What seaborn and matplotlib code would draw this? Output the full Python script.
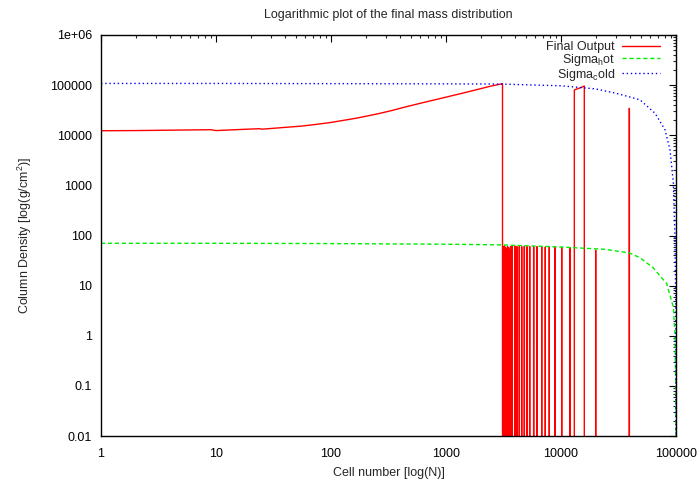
import numpy as np
import pandas as pd
import seaborn as sns
import matplotlib.pyplot as plt
from matplotlib.ticker import LogLocator, NullFormatter

# Final output: smooth part up to cell ~3100
red_curve_n = [1, 2, 5, 9, 10, 20, 24, 25, 39, 55, 75, 100, 168, 250, 326, 450, 637,
               1000, 1500, 2410, 3100]
red_curve_sigma = [12300, 12400, 12700, 12900, 12400, 13300, 13500, 13200, 14300, 15200,
                   16500, 18000, 22000, 26500, 30500, 37000, 45000, 57500, 72000, 94600,
                   107000]

# isolated cells with mass (spikes)
spike_n = [3150, 3220, 3290, 3360, 3430, 3500, 3570, 3640, 3710, 3773, 3981, 4143, 4343,
           4553, 4800, 5060, 5343, 5785, 6185, 6795, 7304, 7913, 8870, 10140, 11970,
           20030, 39300]
spike_sigma = [60, 62, 58, 55, 60, 57, 52, 60, 58, 61, 62, 60, 61, 60, 61, 60, 60, 60, 60,
               60, 59, 59, 59, 58, 57, 51, 34500]

# block of cells near cold curve
block_n = [13060, 14000, 15000, 15950]
block_sigma = [80000, 85000, 90000, 96000]

cold_n = [1, 10, 100, 1000, 3000, 10000, 20000, 30000, 48600, 65700, 80200, 88700,
          94900, 97800, 99500, 99900, 100000]
cold_sigma = [108000, 108000, 107000, 106000, 105000, 97000, 84000, 69000, 51000, 27500,
              12900, 5100, 1120, 112, 5, 0.3, 0.001]

hot_n = [1, 10, 100, 1000, 3000, 10000, 24000, 39300, 48600, 63000, 83000, 94900, 97800,
         99500, 99900, 100000]
hot_sigma = [70, 70, 69, 67, 65, 59, 53, 45, 36, 23, 11, 3.7, 1.15, 0.1, 0.02, 0.001]

FLOOR = 1e-4

pts = list(zip(red_curve_n, red_curve_sigma))
pts.append((red_curve_n[-1] + 1, FLOOR))
for n, h in zip(spike_n, spike_sigma):
    pts += [(n - 1, FLOOR), (n, h), (n + 1, FLOOR)]
pts.append((block_n[0] - 1, FLOOR))
pts += list(zip(block_n, block_sigma))
pts.append((block_n[-1] + 1, FLOOR))
pts.sort()
red = pd.DataFrame(pts, columns=['cell', 'sigma'])

sns.set_style('white')
plt.rcParams['font.family'] = ['Liberation Sans', 'DejaVu Sans']
plt.rcParams['mathtext.fontset'] = 'custom'
plt.rcParams['mathtext.rm'] = 'Liberation Sans'
plt.rcParams['mathtext.it'] = 'Liberation Sans'

fig = plt.figure(figsize=(7, 4.82), dpi=100)
ax = fig.add_axes([0.1443, 0.0954, 0.8214, 0.832])

sns.lineplot(data=red, x='cell', y='sigma', estimator=None, sort=False, ax=ax,
             color='#ff0000', lw=1, label='Final Output')
sns.lineplot(x=hot_n, y=hot_sigma, estimator=None, sort=False, ax=ax,
             color='#00ee00', lw=1, label=r'Sigma$_\mathrm{h}$ot')
sns.lineplot(x=cold_n, y=cold_sigma, estimator=None, sort=False, ax=ax,
             color='#0000ff', lw=1, label=r'Sigma$_\mathrm{c}$old')
ax.get_lines()[1].set_dashes((3, 2))
ax.get_lines()[2].set_dashes((1, 2))

ax.set_xscale('log')
ax.set_yscale('log')
ax.set_xlim(1, 100000)
ax.set_ylim(0.01, 1e6)

xticks = [1, 10, 100, 1000, 10000, 100000]
xlabels = ['1', '10', '100', '1000', '10000', '100000']
yticks = [0.01, 0.1, 1, 10, 100, 1000, 10000, 100000, 1e6]
ylabels = ['0.01', '0.1', '1', '10', '100', '1000', '10000', '100000', '1e+06']
ax.set_xticks(xticks, xlabels)
ax.set_yticks(yticks, ylabels)
ax.xaxis.set_minor_locator(LogLocator(base=10, subs=np.arange(2, 10)))
ax.yaxis.set_minor_locator(LogLocator(base=10, subs=np.arange(2, 10)))
ax.xaxis.set_minor_formatter(NullFormatter())
ax.yaxis.set_minor_formatter(NullFormatter())
ax.tick_params(which='major', direction='in', length=5, width=0.8, top=True, right=True,
               labelsize=9, colors='black')
ax.tick_params(which='minor', direction='in', length=2.5, width=0.8, top=True, right=True)
ax.tick_params(axis='x', which='major', pad=8.5)
ax.tick_params(axis='y', which='major', pad=6.5)
for s in ax.spines.values():
    s.set_color('black')
    s.set_linewidth(1)

ax.set_title('Logarithmic plot of the final mass distribution', fontsize=9, pad=12)
ax.set_xlabel('Cell number [log(N)]', fontsize=9, labelpad=5)
ax.set_ylabel(r'Column Density [log(g/cm$^2$)]', fontsize=9, labelpad=11.5)

ax.legend(loc='upper right', bbox_to_anchor=(0.972, 0.985), frameon=False,
          markerfirst=False, fontsize=9, handlelength=3.0, handletextpad=0.6,
          labelspacing=-0.1, borderaxespad=0, borderpad=0)

fig.savefig('out.png', dpi=100)
